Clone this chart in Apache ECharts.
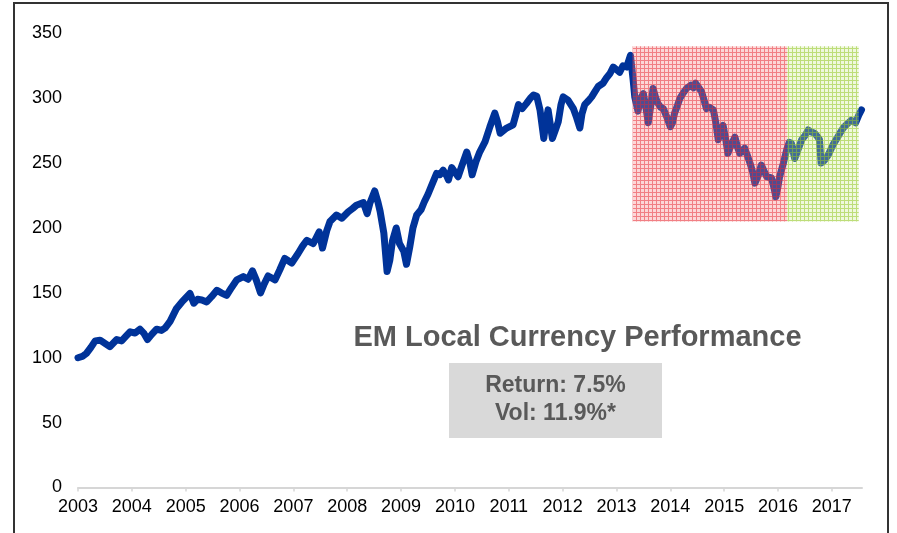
<!DOCTYPE html>
<html>
<head>
<meta charset="utf-8">
<script src="https://cdn.jsdelivr.net/npm/echarts@6/dist/echarts.min.js"></script>
<style>html,body{margin:0;padding:0;background:#fff}#c{width:897px;height:533px}</style>
</head>
<body>
<div id="c"></div>
<script>
// fractional year of each reading
const years = [
2003.00,2003.08,2003.16,2003.24,2003.32,2003.41,2003.50,2003.59,2003.72,2003.81,2003.90,2003.97,
2004.06,2004.15,2004.22,2004.29,2004.37,2004.46,2004.55,2004.62,2004.71,2004.77,2004.83,2004.93,
2005.00,2005.08,2005.15,2005.22,2005.30,2005.39,2005.48,2005.58,2005.66,2005.76,2005.85,2005.95,
2006.07,2006.16,2006.24,2006.31,2006.39,2006.46,2006.53,2006.66,2006.75,2006.84,2006.97,
2007.09,2007.17,2007.25,2007.37,2007.48,2007.54,2007.62,2007.68,2007.80,2007.90,
2008.02,2008.10,2008.17,2008.30,2008.37,2008.42,2008.51,2008.57,2008.61,2008.68,2008.74,2008.79,2008.84,2008.91,2008.97,
2009.05,2009.10,2009.16,2009.22,2009.29,2009.37,2009.43,2009.50,2009.56,2009.66,2009.72,2009.78,2009.85,2009.88,2009.94,2009.97,
2010.06,2010.13,2010.22,2010.28,2010.32,2010.39,2010.46,2010.56,2010.65,2010.74,2010.79,2010.84,2010.96,
2011.08,2011.13,2011.18,2011.25,2011.33,2011.40,2011.46,2011.52,2011.58,2011.65,2011.69,2011.73,2011.77,2011.81,2011.87,2011.92,2011.97,
2012.01,2012.10,2012.20,2012.26,2012.32,2012.36,2012.41,2012.48,2012.54,2012.60,2012.66,2012.75,2012.82,2012.88,2012.94,
2013.00,2013.06,2013.12,2013.19,2013.26,2013.31,2013.34,2013.40,2013.45,2013.50,2013.55,2013.59,2013.64,2013.68,2013.73,2013.77,2013.82,2013.87,2013.93,
2014.00,2014.04,2014.08,2014.13,2014.18,2014.24,2014.30,2014.38,2014.43,2014.47,2014.53,2014.58,2014.63,2014.67,2014.73,2014.80,2014.85,2014.89,2014.94,2014.98,
2015.03,2015.07,2015.13,2015.20,2015.25,2015.29,2015.38,2015.43,2015.48,2015.53,2015.57,2015.63,2015.69,2015.74,2015.79,2015.88,2015.93,2015.96,
2016.00,2016.03,2016.10,2016.17,2016.21,2016.25,2016.31,2016.37,2016.44,2016.50,2016.56,2016.62,2016.68,2016.74,2016.77,2016.80,2016.86,2016.93,
2017.02,2017.08,2017.15,2017.21,2017.27,2017.36,2017.44,2017.50,2017.55
];
// index level readings
const values = [
100,101,103.5,108,113,113.5,111,108.5,114,113,117,120,
119,122,119,114,118,122,121,123,128,133,138,143,
146,149.5,142,145,144.5,143,147,152,150,148,154,160,
162.5,160.5,167,160,150,157,163,160,168,176.5,173,
180.5,186,190.5,188,197,184.5,198,205,210,207.5,
212.5,215,217.5,219.5,211,219,228.5,220,213,196,166.5,175,190,200,188,
182,172,185,200,210,214,220,226,232,242,241,244.5,240,237,246.5,245,
239.5,248,258.5,250,241,251,258.5,266.5,278,288.5,282,273,277,
279.5,287,295,292,296,300,302.5,301.5,291,269,282,291,280,269,276,282,295,
301,298.5,292,285,277,288,295,298,301,305,309,311.5,316,319,324,
322,320,325,324,333,314,301,290,300,303.5,292,281,295,307.5,300,296,293,292,286,
278,281,288.5,294,300,304,307.5,310,308,311.5,308,305,298,292,293,291,280,268,276,279,
268,257.5,264,270,262,257.5,261.5,256,250,243,234.5,240,248.5,244,239.5,238.5,230,224,
232,239.5,250,261.5,266,265,253.5,260,268,271,275.5,274,273,270,268,250,252,256,
264,268,273,277,279.5,283,281,287,291
];
// shaded periods: [start, end, low, high]
const redPeriod = [2013.30, 2016.17, 205, 340];
const greenPeriod = [2016.17, 2017.50, 205, 340];
const yearTicks = [2003,2004,2005,2006,2007,2008,2009,2010,2011,2012,2013,2014,2015,2016,2017];
const titleText = 'EM Local Currency Performance';
const statLines = ['Return: 7.5%', 'Vol: 11.9%*'];

function makePattern(line, fill) {
  const c = document.createElement('canvas');
  c.width = 4; c.height = 4;
  const g = c.getContext('2d');
  g.fillStyle = fill; g.fillRect(0, 0, 4, 4);
  g.fillStyle = line; g.fillRect(0, 0, 4, 1); g.fillRect(0, 1, 1, 3);
  return { image: c, repeat: 'repeat' };
}

const chart = echarts.init(document.getElementById('c'), null, { renderer: 'canvas' });
const font = "'Liberation Sans', Arial, Helvetica, sans-serif";
chart.setOption({
  animation: false,
  backgroundColor: '#fff',
  grid: { left: 78, right: 35, top: 33.3, bottom: 45.5 },
  xAxis: {
    type: 'value', min: 2003, max: 2017.56,
    axisLine: { show: true, lineStyle: { color: '#d6d6d6', width: 2 } },
    axisTick: { show: true, length: 4, customValues: yearTicks, lineStyle: { color: '#d6d6d6', width: 1.5 } },
    axisLabel: { customValues: yearTicks, formatter: v => String(v), fontSize: 18, color: '#000', fontFamily: font, margin: 11 },
    splitLine: { show: false }
  },
  yAxis: {
    type: 'value', min: 0, max: 350, interval: 50,
    axisLine: { show: false }, axisTick: { show: false }, splitLine: { show: false },
    axisLabel: { fontSize: 18, color: '#000', fontFamily: font, margin: 16 }
  },
  series: [{
    type: 'line',
    data: years.map((y, i) => [y, values[i]]),
    showSymbol: false, symbol: 'none', smooth: false,
    lineStyle: { color: '#003399', width: 7, cap: 'round', join: 'round' },
    z: 2,
    markArea: {
      silent: true, z: 5,
      data: [
        [{ coord: [redPeriod[0], redPeriod[3]], itemStyle: { color: makePattern('rgba(232,40,50,0.5)', 'rgba(245,130,130,0.32)') } },
         { coord: [redPeriod[1], redPeriod[2]] }],
        [{ coord: [greenPeriod[0], greenPeriod[3]], itemStyle: { color: makePattern('rgba(150,200,40,0.55)', 'rgba(205,232,150,0.32)') } },
         { coord: [greenPeriod[1], greenPeriod[2]] }]
      ]
    }
  }],
  graphic: [
    { type: 'rect', shape: { x: 14, y: 3, width: 874, height: 560 }, style: { fill: 'none', stroke: '#333', lineWidth: 2 }, z: 10 },
    { type: 'text', x: 577.5, y: 338, style: { text: titleText, font: "bold 29px " + font, fill: '#595959', align: 'center', verticalAlign: 'middle' }, z: 10 },
    { type: 'rect', shape: { x: 449, y: 363, width: 213, height: 75 }, style: { fill: '#d9d9d9' }, z: 9 },
    { type: 'text', x: 555.5, y: 386, style: { text: statLines[0], font: "bold 23px " + font, fill: '#595959', align: 'center', verticalAlign: 'middle' }, z: 10 },
    { type: 'text', x: 555.5, y: 414, style: { text: statLines[1], font: "bold 23px " + font, fill: '#595959', align: 'center', verticalAlign: 'middle' }, z: 10 }
  ]
});
</script>
</body>
</html>
